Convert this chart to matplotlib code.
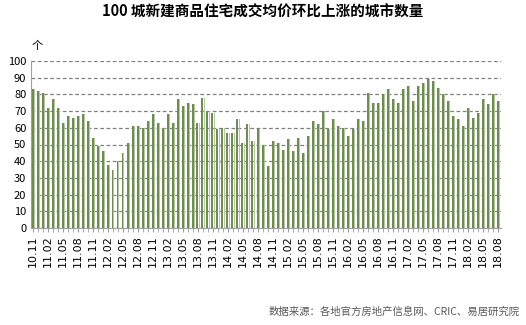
import numpy as np
import matplotlib.pyplot as plt

plt.rcParams['font.family'] = ['Noto Sans CJK SC', 'DejaVu Sans']

# 2010.11 - 2018.08 每月城市数量
values = [83, 82, 81, 72, 77, 72, 63, 67, 66, 67, 68, 64,
          54, 49, 46, 38, 35, 40, 45, 51, 61, 61, 60, 64,
          68, 63, 60, 68, 63, 77, 73, 75, 74, 63, 78, 70,
          69, 59, 60, 57, 57, 65, 51, 62, 52, 59, 50, 37,
          52, 51, 47, 53, 46, 54, 45, 55, 64, 62, 70, 59,
          65, 61, 60, 55, 59, 65, 64, 81, 75, 75, 80, 83,
          77, 75, 83, 85, 76, 85, 87, 89, 88, 84, 80, 76,
          67, 65, 61, 72, 66, 69, 77, 74, 80, 76]

months = []
for y in range(2010, 2019):
    for m in range(1, 13):
        if (y, m) >= (2010, 11) and (y, m) <= (2018, 8):
            months.append('%02d.%02d' % (y % 100, m))

x = np.arange(len(values))

fig = plt.figure(figsize=(5.26, 3.25), dpi=100)
ax = fig.add_axes([30.5 / 526, 97 / 325, 470 / 526, 167 / 325])

ax.bar(x - 0.1, values, width=0.4, color='#6f8c57', zorder=3)
ax.bar(x + 0.2, values, width=0.2, color='#b5c99e', zorder=3)

ax.set_xlim(-0.5, len(values) - 0.5)
ax.set_ylim(0, 100)
ax.set_yticks(range(0, 101, 10))
ax.yaxis.grid(True, linestyle=(0, (3, 2)), color='#808080', linewidth=0.9, zorder=0)
ax.tick_params(axis='y', length=0, labelsize=8, pad=3)

ax.set_xticks(x[::3])
ax.set_xticklabels(months[::3], rotation=90, fontsize=8, family='DejaVu Sans')
ax.set_xticks(x, minor=True)
ax.tick_params(axis='x', which='both', length=3, color='#a0a0a0', pad=2)

for s in ['top', 'right']:
    ax.spines[s].set_visible(False)
ax.spines['left'].set_color('#a0a0a0')
ax.spines['bottom'].set_color('#a0a0a0')

fig.text(0.5, 1 - 12 / 325, '100 城新建商品住宅成交均价环比上涨的城市数量',
         ha='center', va='center', fontsize=10.5, fontweight='bold')
fig.text(37 / 526, 1 - 46 / 325, '个', ha='center', va='center', fontsize=8)
fig.text(520 / 526, 1 - 312 / 325, '数据来源：各地官方房地产信息网、CRIC、易居研究院',
         ha='right', va='center', fontsize=7.5, color='#595959')

fig.savefig('out.png', dpi=100)
